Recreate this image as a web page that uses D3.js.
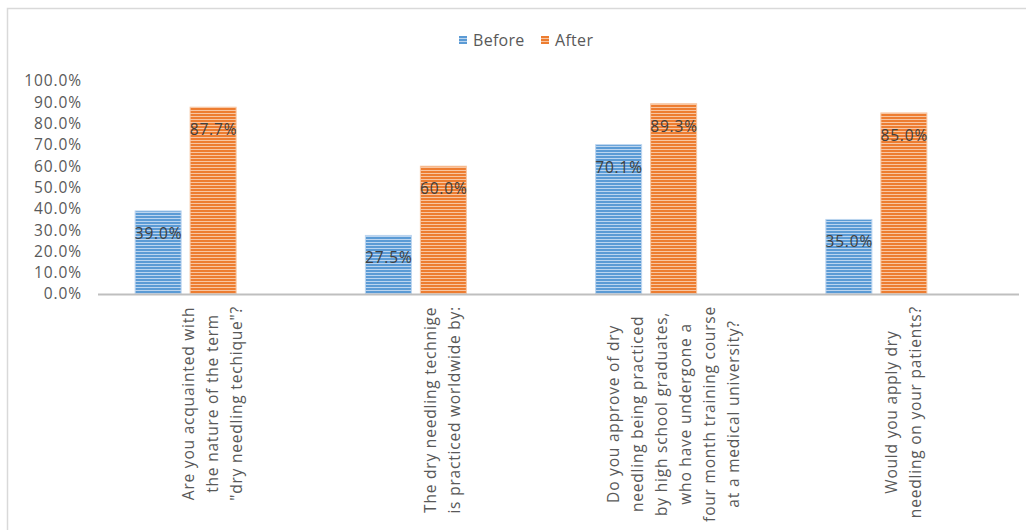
<!DOCTYPE html>
<html>
<head>
<meta charset="utf-8">
<script src="https://cdn.jsdelivr.net/npm/d3@7"></script>
<style>
  html, body { margin: 0; padding: 0; background: #fff; }
  svg { display: block; font-family: "Open Sans", sans-serif; }
</style>
</head>
<body>
<svg id="chart" width="1026" height="530"></svg>
<script>
// ---- data ----
const categories = [
  "Are you acquainted with the nature of the term \"dry needling techique\"?",
  "The dry needling technige is practiced worldwide by:",
  "Do you approve of dry needling being practiced by high school graduates, who have undergone a four month training course at a medical university?",
  "Would you apply dry needling on your patients?"
];
const categoryLines = [
  ["Are you acquainted with", "the nature of the term", "\"dry needling techique\"?"],
  ["The dry needling technige", "is practiced worldwide by:"],
  ["Do you approve of dry", "needling being practiced", "by high school graduates,", "who have undergone a", "four month training course", "at a medical university?"],
  ["Would you apply dry", "needling on your patients?"]
];
const seriesNames = ["Before", "After"];
const beforeValues = [0.390, 0.275, 0.701, 0.350];
const afterValues  = [0.877, 0.600, 0.893, 0.850];
const yTicks = [0, 0.1, 0.2, 0.3, 0.4, 0.5, 0.6, 0.7, 0.8, 0.9, 1.0];

const colors = { Before: "#5b9bd5", After: "#ed7d31" };
const light  = { Before: "#bcd5ef", After: "#f8c6a2" };

const svg = d3.select("#chart");

// chart frame
svg.append("rect")
  .attr("x", 7.5).attr("y", 8.5).attr("width", 1040).attr("height", 540)
  .attr("fill", "none").attr("stroke", "#d9d9d9").attr("stroke-width", 1.5);

// patterns
const defs = svg.append("defs");
seriesNames.forEach(s => {
  const p = defs.append("pattern")
    .attr("id", "pat-" + s).attr("patternUnits", "userSpaceOnUse")
    .attr("width", 8).attr("height", 3);
  p.append("rect").attr("width", 8).attr("height", 3).attr("fill", colors[s]);
  p.append("rect").attr("y", 2).attr("width", 8).attr("height", 1).attr("fill", light[s]);
});

// scales
const y = d3.scaleLinear().domain([0, 1]).range([294, 81]);
const x0 = d3.scaleBand().domain(categories).range([98, 1019]);
// three slots per category: the reference leaves an empty third slot on the right
const x1 = d3.scaleBand().domain([...seriesNames, "_empty"])
  .range([x0.bandwidth() / 2 - 78, x0.bandwidth() / 2 + 78])
  .paddingInner(9 / 55);

// y axis labels
const yAxis = d3.axisLeft(y).tickValues(yTicks).tickFormat(d3.format(".1%")).tickSize(0).tickPadding(0);
const ya = svg.append("g").attr("transform", "translate(82,0)").call(yAxis);
ya.select(".domain").remove();
ya.selectAll("text").attr("fill", "#595959").style("font-size", "15.5px")
  .style("letter-spacing", "0.9px")
  .style("font-family", "'Open Sans', sans-serif");

// bars
const rows = categories.map((c, i) => ({ c, i, vals: [
  { s: "Before", v: beforeValues[i] }, { s: "After", v: afterValues[i] }] }));

const g = svg.selectAll("g.cat").data(rows).enter().append("g")
  .attr("class", "cat").attr("transform", d => `translate(${x0(d.c)},0)`);

g.selectAll("rect.bar").data(d => d.vals).enter().append("rect")
  .attr("class", "bar")
  .attr("x", d => x1(d.s)).attr("width", x1.bandwidth())
  .attr("y", d => y(d.v)).attr("height", d => y(0) - y(d.v))
  .attr("fill", d => `url(#pat-${d.s})`)
  .attr("stroke", d => light[d.s]).attr("stroke-width", 1);

g.selectAll("text.lbl").data(d => d.vals).enter().append("text")
  .attr("class", "lbl")
  .attr("x", d => x1(d.s) + x1.bandwidth() / 2 + 0.4)
  .attr("y", d => y(d.v) + 28)
  .attr("text-anchor", "middle")
  .attr("fill", "#404040").style("font-size", "15.5px")
  .style("letter-spacing", "0.8px")
  .text(d => d3.format(".1%")(d.v));

// x axis line
svg.append("line").attr("x1", 98).attr("x2", 1019).attr("y1", 294.5).attr("y2", 294.5)
  .attr("stroke", "#bfbfbf").attr("stroke-width", 2);

// category labels (rotated)
categories.forEach((c, i) => {
  const lines = categoryLines[i];
  const cx = x0(c) + x0.bandwidth() / 2;
  const lg = svg.append("g");
  const t = lg.append("text").attr("text-anchor", "middle").attr("fill", "#595959")
    .style("font-size", "15.5px").style("letter-spacing", "0.8px");
  const n = lines.length;
  lines.forEach((ln, j) => {
    t.append("tspan").attr("x", 0).attr("y", (j - (n - 1) / 2) * 24 + 5).text(ln);
  });
  let maxW = 0;
  t.selectAll("tspan").each(function() { maxW = Math.max(maxW, this.getComputedTextLength()); });
  lg.attr("transform", `translate(${cx},${306 + maxW / 2}) rotate(-90)`);
});

// legend
const legend = svg.append("g");
const legX = [459, 541];
seriesNames.forEach((s, i) => {
  legend.append("rect").attr("x", legX[i]).attr("y", 36).attr("width", 8).attr("height", 8)
    .attr("fill", `url(#pat-${s})`);
  legend.append("text").attr("x", legX[i] + 14).attr("y", 46)
    .attr("fill", "#595959").style("font-size", "16px").style("letter-spacing", "0.3px").text(s);
});
</script>
</body>
</html>
